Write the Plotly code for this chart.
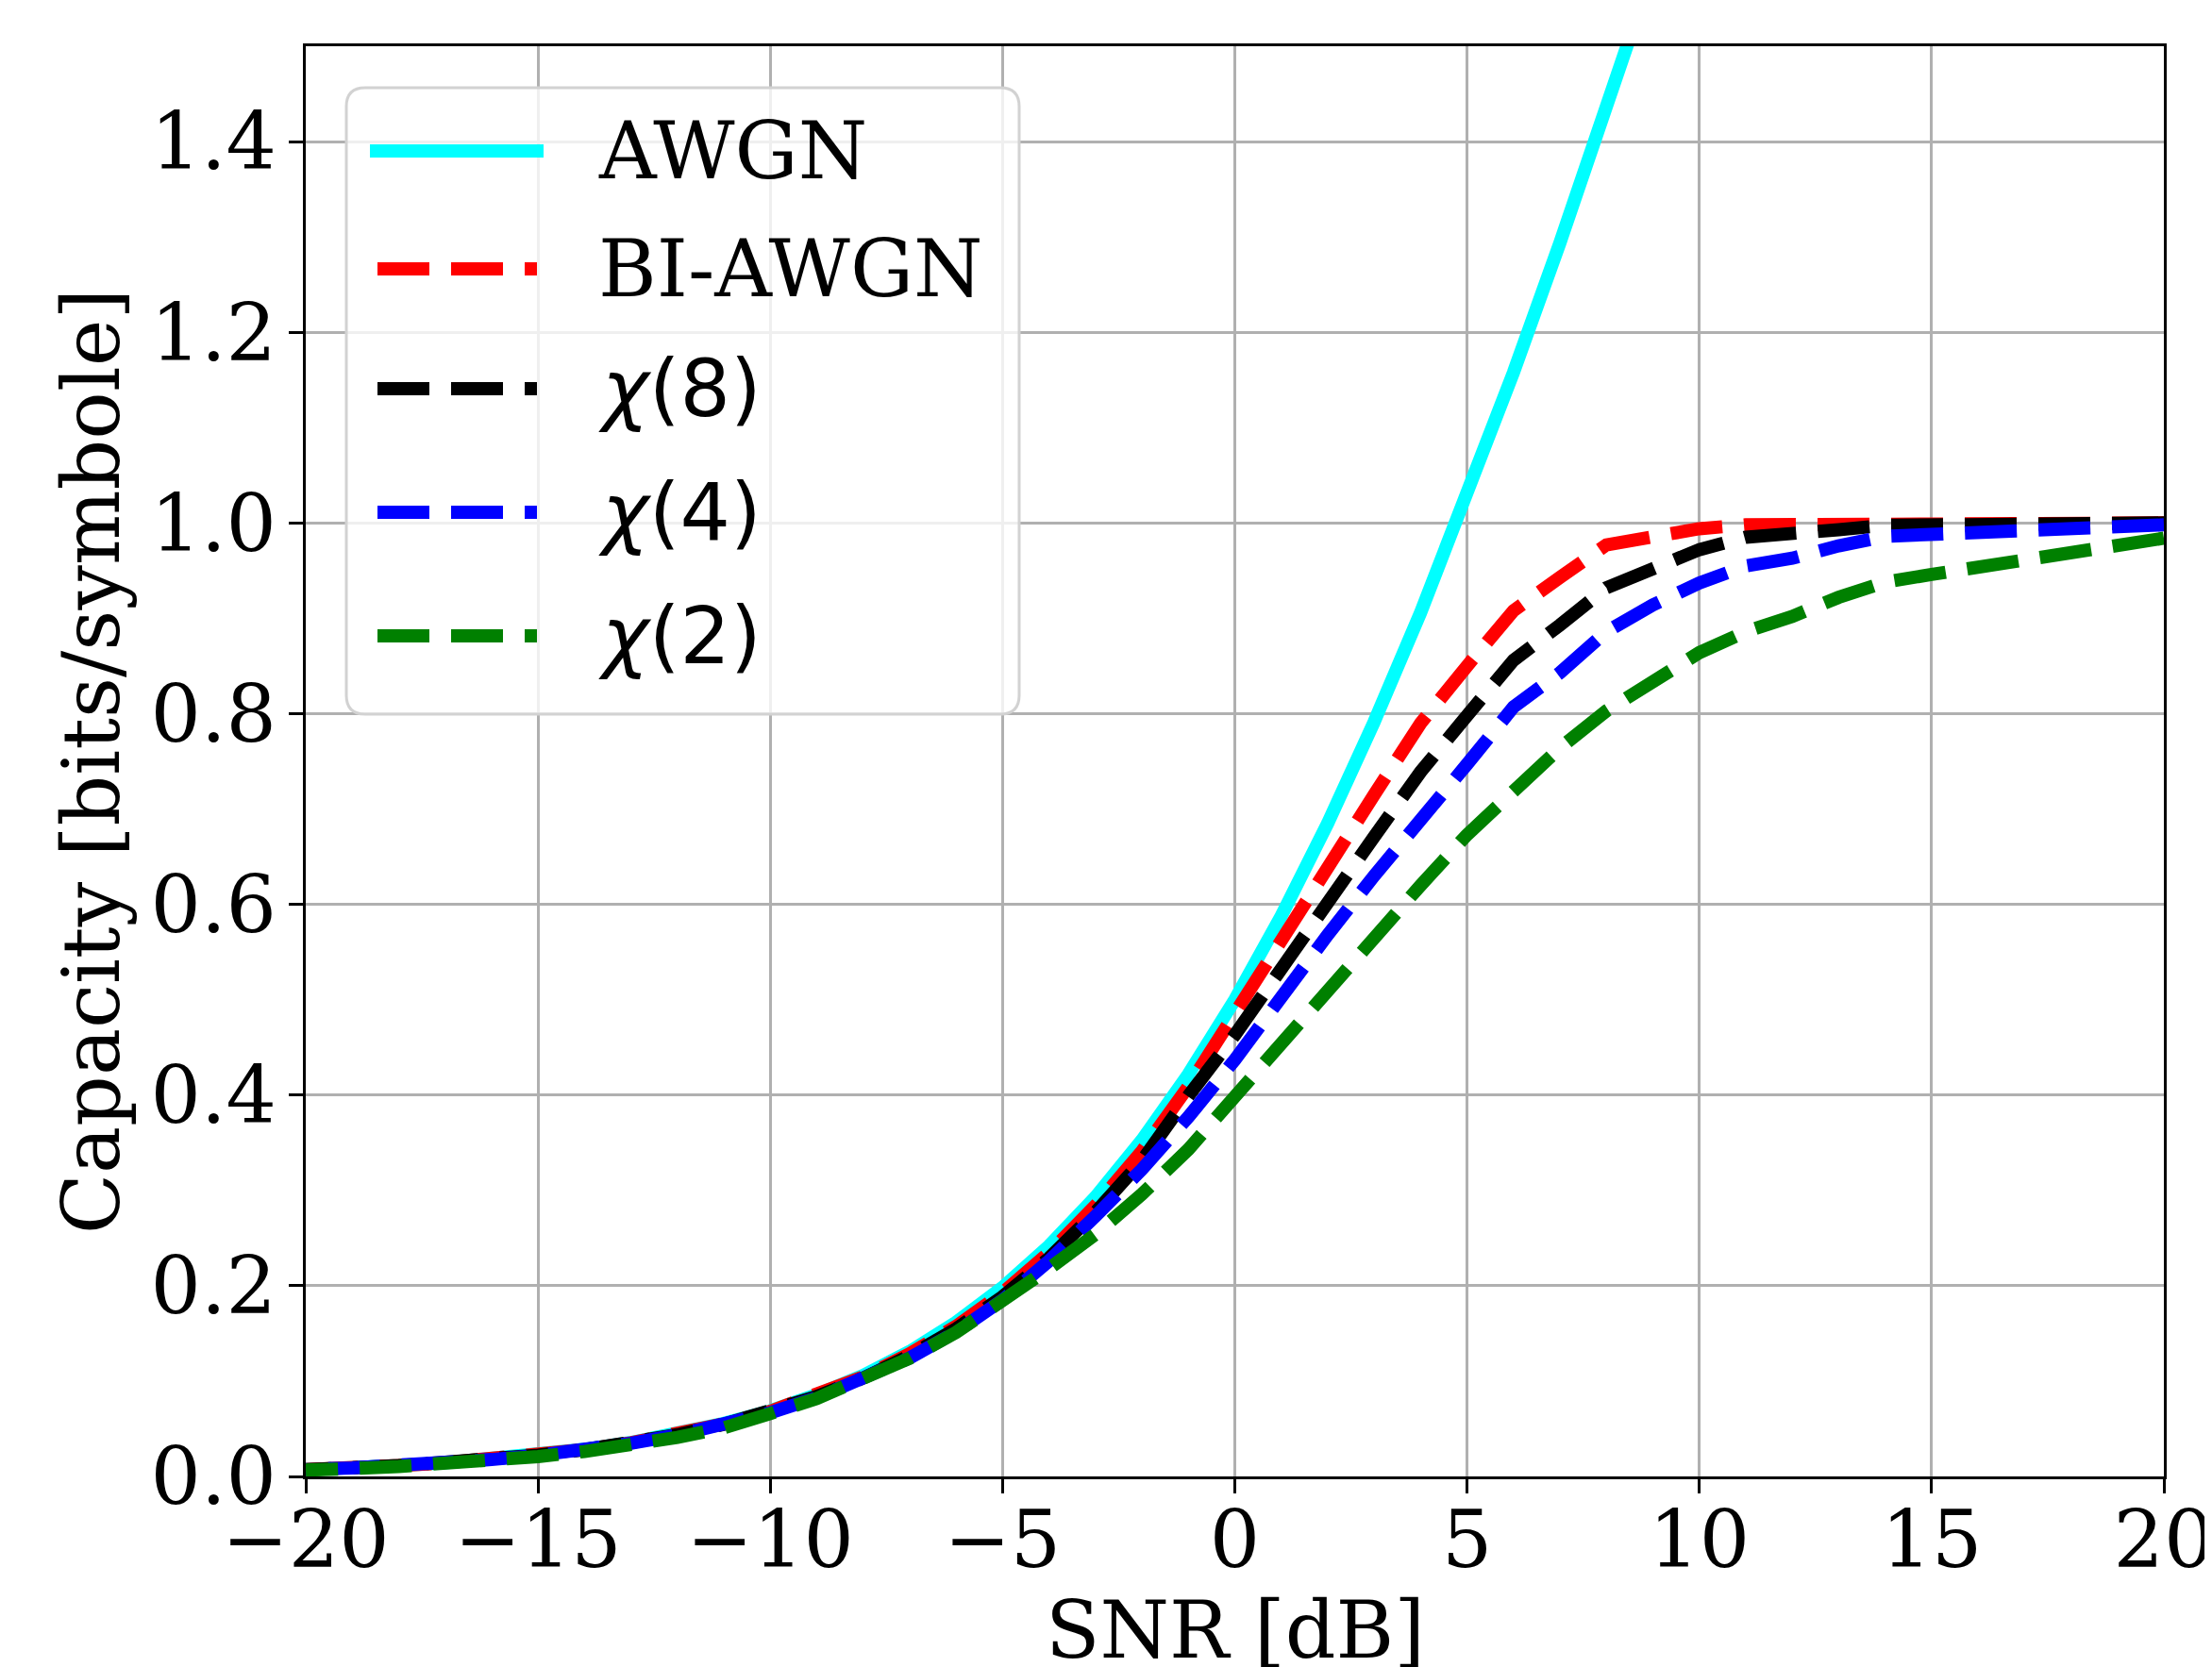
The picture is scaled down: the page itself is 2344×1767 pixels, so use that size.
import plotly.graph_objects as go

# ---------------- data ----------------
SNR_DB = [-20, -19, -18, -17, -16, -15, -14, -13, -12, -11, -10, -9, -8, -7, -6, -5, -4, -3, -2, -1,
          0, 1, 2, 3, 4, 5, 6, 7, 8, 9, 10, 11, 12, 13, 14, 15, 16, 17, 18, 19, 20]

SNR_AWGN = [-20, -19, -18, -17, -16, -15, -14, -13, -12, -11, -10, -9, -8, -7, -6, -5, -4, -3, -2, -1,
            0, 1, 2, 3, 4, 5, 6, 7, 8, 9]
C_AWGN = [0.0072, 0.0090, 0.0114, 0.0143, 0.0180, 0.0226, 0.0284, 0.0356, 0.0446, 0.0556,
          0.0688, 0.0857, 0.1060, 0.1310, 0.1617, 0.1982, 0.2418, 0.2930, 0.3528, 0.4217,
          0.5000, 0.5878, 0.6850, 0.7915, 0.9060, 1.0290, 1.1580, 1.2940, 1.4350, 1.5800]

C_BIAWGN = [0.0072, 0.0090, 0.0114, 0.0143, 0.0179, 0.0225, 0.0282, 0.0353, 0.0442, 0.0551,
            0.0683, 0.0848, 0.1045, 0.1285, 0.1575, 0.1925, 0.2345, 0.2840, 0.3410, 0.4090,
            0.4880, 0.5620, 0.6400, 0.7150, 0.7900, 0.8500, 0.9080, 0.9430, 0.9770, 0.9870,
            0.9940, 0.9980, 0.9990, 1.0000, 1.0000, 1.0000, 1.0000, 1.0000, 1.0000, 1.0000, 1.0000]

C_CHI8 = [0.0072, 0.0090, 0.0113, 0.0142, 0.0178, 0.0223, 0.0280, 0.0350, 0.0438, 0.0546,
          0.0676, 0.0838, 0.1032, 0.1266, 0.1548, 0.1885, 0.2290, 0.2770, 0.3310, 0.3990,
          0.4630, 0.5280, 0.6000, 0.6710, 0.7390, 0.7980, 0.8560, 0.8930, 0.9320, 0.9530,
          0.9720, 0.9850, 0.9880, 0.9930, 0.9975, 0.9990, 1.0000, 1.0000, 1.0000, 1.0000, 1.0000]

C_CHI4 = [0.0072, 0.0090, 0.0113, 0.0141, 0.0177, 0.0222, 0.0278, 0.0348, 0.0434, 0.0540,
          0.0668, 0.0825, 0.1015, 0.1242, 0.1515, 0.1850, 0.2260, 0.2730, 0.3220, 0.3770,
          0.4370, 0.5010, 0.5680, 0.6300, 0.6910, 0.7470, 0.8070, 0.8430, 0.8860, 0.9140,
          0.9370, 0.9550, 0.9630, 0.9760, 0.9860, 0.9880, 0.9900, 0.9920, 0.9940, 0.9960, 0.9980]

C_CHI2 = [0.0066, 0.0083, 0.0105, 0.0132, 0.0166, 0.0208, 0.0261, 0.0327, 0.0409, 0.0510,
          0.0660, 0.0818, 0.1010, 0.1240, 0.1510, 0.1830, 0.2180, 0.2540, 0.2960, 0.3430,
          0.3970, 0.4530, 0.5110, 0.5650, 0.6200, 0.6730, 0.7190, 0.7640, 0.8030, 0.8330,
          0.8640, 0.8860, 0.9020, 0.9220, 0.9380, 0.9460, 0.9550, 0.9610, 0.9700, 0.9770, 0.9840]

X_TICKS = [-20, -15, -10, -5, 0, 5, 10, 15, 20]
Y_TICKS = [0.0, 0.2, 0.4, 0.6, 0.8, 1.0, 1.2, 1.4]

X_TITLE = "SNR [dB]"
Y_TITLE = "Capacity [bits/symbole]"
LEGEND_LABELS = ["AWGN", "BI-AWGN", "<i>χ</i>(8)", "<i>χ</i>(4)", "<i>χ</i>(2)"]
COLORS = ["#00ffff", "#ff0000", "#000000", "#0000ff", "#008000"]

# ---------------- figure ----------------
# page body has an 8px default margin: the figure is drawn 8px smaller and
# its margins are reduced by 8 so the plot lands where the reference has it
OFF = 8
W, H = 2344 - OFF, 1767 - OFF
L, R, T, B = 324 - OFF, 51, 49 - OFF, 202
PW, PH = W - L - R, H - T - B
LW = 14
DASH = "55px,23px"
SERIF = "DejaVu Serif"

series = [
    (SNR_AWGN, C_AWGN, "solid"),
    (SNR_DB, C_BIAWGN, DASH),
    (SNR_DB, C_CHI8, DASH),
    (SNR_DB, C_CHI4, DASH),
    (SNR_DB, C_CHI2, DASH),
]

fig = go.Figure()
for (xs, ys, dash), color, name in zip(series, COLORS, LEGEND_LABELS):
    # traced from high SNR to low SNR, so the dash pattern starts at the right edge
    fig.add_trace(go.Scatter(x=xs[::-1], y=ys[::-1], mode="lines", name=name,
                             line=dict(color=color, width=LW, dash=dash),
                             showlegend=False, hoverinfo="skip"))


# screen pixel (reference coordinates) -> paper fraction
def px(xp):
    return (xp - OFF - L) / PW


def py(yp):
    return (H - B - (yp - OFF)) / PH


# manual legend (matplotlib style: long samples, rounded frame)
bx0, bx1, by0, by1 = px(367), px(1080), py(757), py(93)
rx, ry = 20 / PW, 20 / PH
box_path = (f"M {bx0+rx},{by1} L {bx1-rx},{by1} Q {bx1},{by1} {bx1},{by1-ry} "
            f"L {bx1},{by0+ry} Q {bx1},{by0} {bx1-rx},{by0} "
            f"L {bx0+rx},{by0} Q {bx0},{by0} {bx0},{by0+ry} "
            f"L {bx0},{by1-ry} Q {bx0},{by1} {bx0+rx},{by1} Z")
shapes = [dict(type="path", path=box_path, xref="paper", yref="paper", layer="above",
               fillcolor="rgba(255,255,255,0.8)", line=dict(color="#d2d2d2", width=3))]
annotations = []
rows = [160, 285, 412, 543, 674]
for i, (label, color) in enumerate(zip(LEGEND_LABELS, COLORS)):
    yy = py(rows[i])
    if i == 0:
        x0l, x1l, d = px(392), px(576), "solid"
    else:
        x0l, x1l, d = px(400), px(569), DASH
    shapes.append(dict(type="line", xref="paper", yref="paper", layer="above",
                       x0=x0l, x1=x1l, y0=yy, y1=yy,
                       line=dict(color=color, width=LW, dash=d)))
    fam = SERIF if i < 2 else "DejaVu Sans"
    annotations.append(dict(x=px(632), y=yy, xref="paper", yref="paper", text=label,
                            showarrow=False, xanchor="left", yanchor="middle",
                            font=dict(family=fam, size=84, color="black")))

# x-axis title (placed like the reference, partly below the picture edge)
annotations.append(dict(x=0.5, y=py(1728), xref="paper", yref="paper", text=X_TITLE,
                        showarrow=False, xanchor="center", yanchor="middle",
                        font=dict(family=SERIF, size=84, color="black")))

axis_common = dict(
    showgrid=True, gridcolor="#b0b0b0", gridwidth=3,
    showline=True, linecolor="black", linewidth=3.3, mirror=True,
    ticks="outside", ticklen=15, tickwidth=3, tickcolor="black",
    zeroline=False, automargin=False, ticklabeloverflow="allow",
    tickfont=dict(family=SERIF, size=84, color="black"),
)

fig.update_layout(
    width=W, height=H,
    margin=dict(l=L, r=R, t=T, b=B, autoexpand=False),
    paper_bgcolor="white", plot_bgcolor="white",
    font=dict(family=SERIF, size=84, color="black"),
    showlegend=False,
    shapes=shapes,
    annotations=annotations,
    xaxis=dict(range=[-20, 20], tickvals=X_TICKS,
               ticklabelstandoff=-23,
               **axis_common),
    yaxis=dict(range=[0, 1.5], tickvals=Y_TICKS, tickformat=".1f",
               ticklabelstandoff=-4,
               title=dict(text=Y_TITLE, font=dict(family=SERIF, size=84), standoff=6),
               **axis_common),
)

fig.write_html("out.html")
